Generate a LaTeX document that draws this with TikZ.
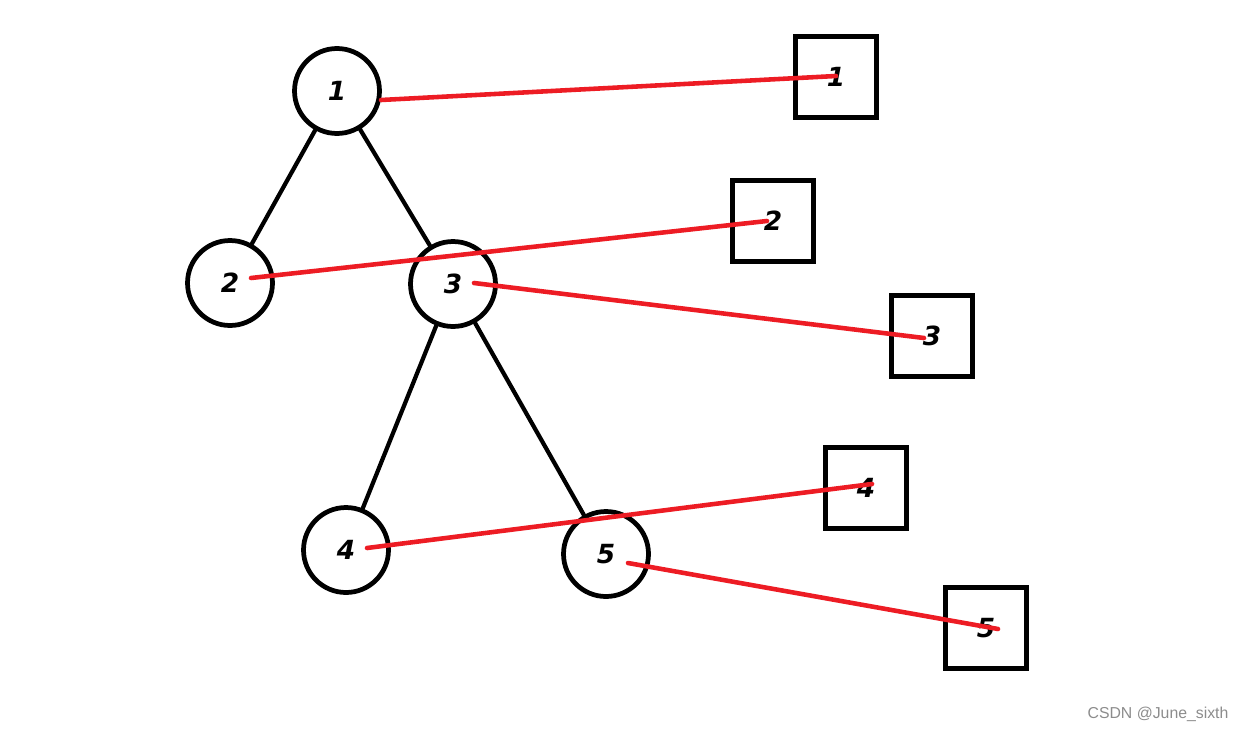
\documentclass[tikz,border=0pt]{standalone}
\usepackage{fontspec}
\newfontfamily\wmfont{Liberation Sans}
\newfontfamily\digitfont{DejaVu Sans}
\definecolor{paintred}{RGB}{237,28,36}

\begin{document}
\begin{tikzpicture}[
    x=0.02cm,y=-0.02cm,
    treenode/.style={circle,draw=black,line width=2.7pt,minimum size=1.7cm,inner sep=0pt,
      font=\digitfont\fontsize{15}{18}\selectfont\bfseries\itshape},
    boxnode/.style={rectangle,draw=black,line width=2.7pt,minimum size=1.62cm,inner sep=0pt,
      font=\digitfont\fontsize{15}{18}\selectfont\bfseries\itshape},
    edge/.style={draw=black,line width=2.4pt,line cap=round},
    link/.style={draw=paintred,line width=2.6pt,line cap=round},
    wmark/.style={font=\wmfont\fontsize{9}{11}\selectfont,text=black!45}
]
\useasboundingbox (0,0) rectangle (1239,730);

% tree
\node[treenode] (c1) at (337,91) {1};
\node[treenode] (c2) at (230,283) {2};
\node[treenode] (c3) at (453,284) {3};
\node[treenode] (c4) at (346,550) {4};
\node[treenode] (c5) at (606,554) {5};

\draw[edge] (c1) -- (c2);
\draw[edge] (c1) -- (c3);
\draw[edge] (c3) -- (c4);
\draw[edge] (c3) -- (c5);

% boxes
\node[boxnode] (b1) at (836,77) {1};
\node[boxnode] (b2) at (773,221) {2};
\node[boxnode] (b3) at (932,336) {3};
\node[boxnode] (b4) at (866,488) {4};
\node[boxnode] (b5) at (986,628) {5};

% red links
\coordinate (s1) at (381,100);
\coordinate (e1) at (836,76);
\coordinate (s2) at (251,278);
\coordinate (e2) at (767,221);
\coordinate (s3) at (474,283);
\coordinate (e3) at (924,338);
\coordinate (s4) at (367,548);
\coordinate (e4) at (872,484);
\coordinate (s5) at (628,563);
\coordinate (e5) at (998,629);
\foreach \i in {1,...,5}
  \draw[link] (s\i) -- (e\i);

\node[wmark] (wm) at (1158,714) {CSDN @June\_sixth};
\end{tikzpicture}
\end{document}
